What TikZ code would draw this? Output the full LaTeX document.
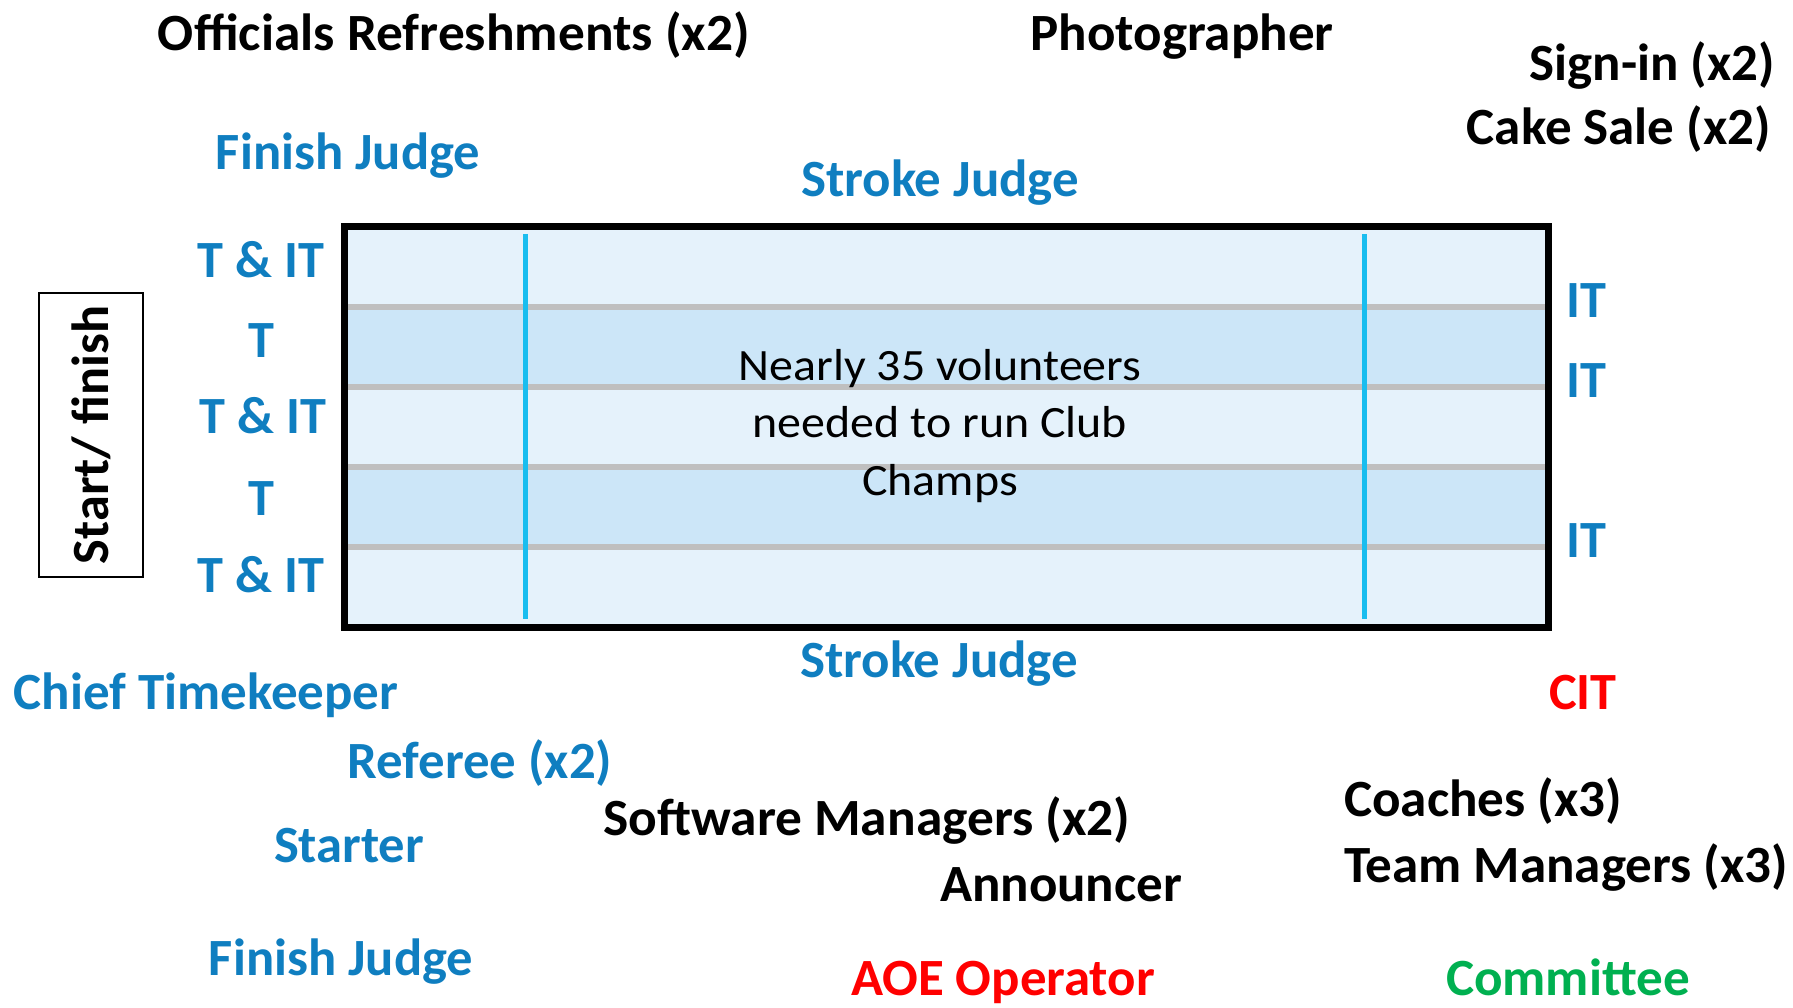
\documentclass[tikz,border=0pt]{standalone}
\usepackage{fontspec}
\usepackage{graphicx}
\setmainfont{Carlito}
\definecolor{txtblue}{HTML}{0F7EC0}
\definecolor{txtred}{HTML}{FF0000}
\definecolor{txtgreen}{HTML}{00B050}
\definecolor{lanelight}{HTML}{E5F2FB}
\definecolor{lanedark}{HTML}{CCE6F8}
\definecolor{lanegray}{HTML}{BFBFBF}
\definecolor{flagcyan}{HTML}{19BDEF}
\newcommand{\fw}[2]{\resizebox{#1pt}{\height}{#2}}
\tikzset{
  lbl/.style={inner sep=0pt, text height=33pt, text depth=0pt,
    font=\bfseries\fontsize{52.3}{62}\selectfont},
  bluelbl/.style={lbl, text=txtblue},
  blacklbl/.style={lbl, text=black},
  redlbl/.style={lbl, text=txtred},
  greenlbl/.style={lbl, text=txtgreen},
  lanerule/.style={draw=lanegray, line width=6pt},
  flagline/.style={draw=flagcyan, line width=5pt},
  poolborder/.style={draw=black, line width=7pt},
  sfbox/.style={draw=black, line width=2.5pt}
}
\begin{document}
\begin{tikzpicture}[x=1pt,y=-1pt]
\useasboundingbox (0,0) rectangle (1793,1008);
% pool lanes
\fill[lanelight] (344,227) rectangle (1548,307);
\fill[lanedark]  (344,307) rectangle (1548,387);
\fill[lanelight] (344,387) rectangle (1548,467);
\fill[lanedark]  (344,467) rectangle (1548,547);
\fill[lanelight] (344,547) rectangle (1548,627);
\foreach \yy in {307,387,467,547} \draw[lanerule] (344,\yy) -- (1548,\yy);
\draw[flagline] (525,234) -- (525,619);
\draw[flagline] (1364,234) -- (1364,619);
\draw[poolborder] (344,227) rectangle (1548,627);
% start/finish box
\draw[sfbox] (39,293) rectangle (143,577);
\node[blacklbl, rotate=90] (sf) at (92,435) {Start/ finish};
% centre text
\node[inner sep=0pt, font=\fontsize{44.8}{57.5}\selectfont] (vol) at (940,426)
  {\scalebox{1.07}[1]{\begin{tabular}{@{}c@{}}Nearly 35 volunteers\\needed to run Club\\Champs\end{tabular}}};
% top
\node[blacklbl] (offr) at (454,34) {\fw{592}{Officials Refreshments (x2)}};
\node[blacklbl] (photo) at (1182,34) {\fw{303}{Photographer}};
\node[blacklbl, anchor=east] (sign) at (1775,64) {\fw{245}{Sign-in (x2)}};
\node[blacklbl, anchor=east] (cake) at (1771,128) {\fw{304}{Cake Sale (x2)}};
\node[bluelbl] (fjtop) at (348,153) {\fw{264}{Finish Judge}};
\node[bluelbl] (sjtop) at (940,180) {\fw{278}{Stroke Judge}};
% left lane labels
\node[bluelbl] (l1) at (261,261) {T \& IT};
\node[bluelbl] (l2) at (261,341) {T};
\node[bluelbl] (l3) at (263,417) {T \& IT};
\node[bluelbl] (l4) at (261,499) {T};
\node[bluelbl] (l5) at (261,576) {T \& IT};
% right lane labels
\node[bluelbl] (r1) at (1586,301) {IT};
\node[bluelbl] (r2) at (1586,381) {IT};
\node[bluelbl] (r4) at (1586,541) {IT};
% bottom
\node[bluelbl] (sjbot) at (939,661) {\fw{278}{Stroke Judge}};
\node[bluelbl] (ctk) at (206,693) {\fw{385}{Chief Timekeeper}};
\node[redlbl] (cit) at (1583,693) {CIT};
\node[bluelbl] (ref) at (480,762) {\fw{265}{Referee (x2)}};
\node[blacklbl] (soft) at (867,819) {\fw{527}{Software Managers (x2)}};
\node[blacklbl, anchor=west] (coach) at (1344,800) {\fw{278}{Coaches (x3)}};
\node[blacklbl, anchor=west] (team) at (1344,866) {\fw{444}{Team Managers (x3)}};
\node[bluelbl] (start) at (349,846) {\fw{150}{Starter}};
\node[blacklbl] (ann) at (1061,885) {\fw{242}{Announcer}};
\node[bluelbl] (fjbot) at (341,959) {\fw{264}{Finish Judge}};
\node[redlbl] (aoe) at (1003,979) {\fw{304}{AOE Operator}};
\node[greenlbl] (comm) at (1568,979) {\fw{244}{Committee}};
\end{tikzpicture}
\end{document}
